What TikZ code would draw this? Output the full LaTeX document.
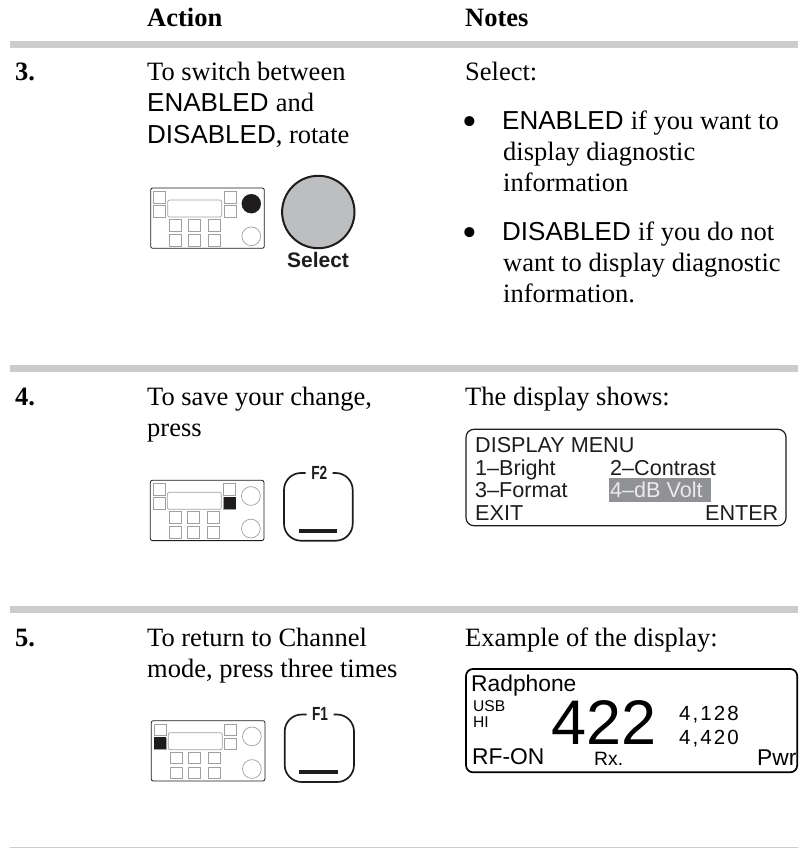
\documentclass[tikz,border=0pt]{standalone}
\usepackage{fontspec}
\setmainfont{Liberation Serif}
\setsansfont{Liberation Sans}
\newfontfamily\spaced[LetterSpace=10]{Liberation Sans}
\definecolor{barg}{RGB}{204,204,204}
\definecolor{knobg}{RGB}{188,190,192}
\definecolor{btng}{RGB}{160,160,162}
\definecolor{hilite}{RGB}{145,146,150}
\definecolor{ink}{RGB}{30,28,28}
\newcommand{\rmpart}{\rmfamily\fontsize{26.5}{28}\selectfont}
\newcommand{\radio}[2]{%
\begin{scope}[shift={(#1,#2)}]
\draw[ink,line width=.8,rounded corners=2] (0,0) rectangle (113.6,60.3);
\foreach \x/\y in {3/3.3,3/17.3,73.3/3.3,73.3/17.3,18.6/31.3,37.3/31.3,57.3/31.3,18.6/46.3,37.3/46.3,57.3/46.3}
 \draw[btng,line width=.7] (\x,\y) rectangle ++(12,11.7);
\draw[btng,line width=.7,rounded corners=2] (17,12) rectangle (71,29);
\draw[btng,line width=.7] (100.6,15.7) circle (9.4);
\draw[btng,line width=.7] (100.6,48.3) circle (9.4);
\end{scope}}
\tikzset{
 x=1pt,y=-1pt,
 body/.style={anchor=base west,inner sep=0,font=\fontsize{26.5}{28}\selectfont,text=black},
 bulletmark/.style={anchor=base west,inner sep=0,font=\fontsize{42}{44}\selectfont,text=black},
 sans/.style={anchor=base west,inner sep=0,font=\sffamily\fontsize{26}{28}\selectfont,text=black},
 head/.style={anchor=base west,inner sep=0,font=\bfseries\fontsize{26.5}{28}\selectfont,text=black},
 lcd/.style={anchor=base west,inner sep=0,font=\sffamily\fontsize{21.6}{24}\selectfont,text=ink},
 lcdb/.style={anchor=base west,inner sep=0,font=\sffamily\fontsize{22.8}{24}\selectfont,text=black},
 lcds/.style={anchor=base west,inner sep=0,font=\sffamily\fontsize{15.6}{16}\selectfont,text=black},
 lcdn/.style={anchor=base west,inner sep=0,font=\spaced\fontsize{20.5}{22}\selectfont,text=black},
 keylabel/.style={inner sep=0,font=\sffamily\bfseries\fontsize{19}{20}\selectfont,text=ink},
 rule/.style={barg,line width=7},
 keyframe/.style={ink,line width=1.7,rounded corners=17},
 onbtn/.style={fill=ink},
}
\begin{document}
\begin{tikzpicture}
\useasboundingbox (0,0) rectangle (798,848);
\fill[white] (0,0) rectangle (798,848);
% rules
\draw[rule] (10,44.4) -- (798,44.4);
\draw[rule] (10,368.6) -- (798,368.6);
\draw[rule] (10,609.6) -- (798,609.6);
\draw[barg,line width=1] (10,847.3) -- (798,847.3);
% headings
\node[head] (hact) at (147,27) {Action};
\node[head] (hnot) at (465,27) {Notes};
% step 3
\node[head] (n3) at (15,81) {3.};
\node[body] (a3a) at (147,81) {To switch between};
\node[sans] (a3b) at (147,112) {ENABLED \rmpart and};
\node[sans] (a3c) at (147,143) {DISABLED\rmpart, rotate};
\radio{150.7}{188}
\fill[onbtn] (251.3,203.7) circle (9.6);
\draw[ink,line width=2,fill=knobg] (318.3,212) circle (36.2);
\node[keylabel,font=\sffamily\bfseries\fontsize{21}{22}\selectfont] (sel) at (318,259.5) {Select};
\node[body] (t3) at (465,81) {Select:};
\node[bulletmark] (b1) at (462.6,135.5) {•};
\node[sans] (t3a) at (502,129.5) {ENABLED \rmpart if you want to};
\node[body] (t3b) at (503,160.5) {display diagnostic};
\node[body] (t3c) at (503,191.5) {information};
\node[bulletmark] (b2) at (462.6,246.5) {•};
\node[sans] (t3d) at (502,240.5) {DISABLED \rmpart if you do not};
\node[body] (t3e) at (503,271.5) {want to display diagnostic};
\node[body] (t3f) at (503,302.5) {information.};
% step 4
\node[head] (n4) at (15,405) {4.};
\node[body] (a4a) at (147,405) {To save your change,};
\node[body] (a4b) at (147,436) {press};
\radio{150.3}{480.3}
\fill[onbtn] (223.5,496.5) rectangle (235.5,509);
\node[keylabel] (f2) at (319.3,472.7) {\scalebox{.72}[1]{F2}};
\draw[keyframe] (305.7,473) -- (284,473) -- (284,540.7) -- (352.7,540.7) -- (352.7,473) -- (332.7,473);
\fill[ink] (299,529) rectangle (337.3,533.3);
\node[body] (t4) at (465,405) {The display shows:};
\draw[ink,line width=1.2,rounded corners=8] (466,429.3) rectangle (786,525.7);
\node[lcd] (d1) at (475,452.3) {DISPLAY MENU};
\node[lcd] (d2) at (475,475) {1–Bright};
\node[lcd] (d3) at (610,475) {2–Contrast};
\node[lcd] (d4) at (475,497.3) {3–Format};
\fill[hilite] (608.7,478.3) rectangle (710.7,501.7);
\node[lcd,text=white!92!black] (d5) at (610,497.3) {4–dB Volt};
\node[lcd] (d6) at (475,520) {EXIT};
\node[lcd,anchor=base east] (d7) at (778.5,520) {ENTER};
% step 5
\node[head] (n5) at (15,646) {5.};
\node[body] (a5a) at (147,646) {To return to Channel};
\node[body] (a5b) at (147,677) {mode, press three times};
\radio{151.3}{720.7}
\fill[onbtn] (154.3,737) rectangle (166.3,749);
\node[keylabel] (f1) at (320,714) {\scalebox{.72}[1]{F1}};
\draw[keyframe] (306.5,714.5) -- (284.7,714.5) -- (284.7,782) -- (354,782) -- (354,714.5) -- (333.5,714.5);
\fill[ink] (299.3,769.7) rectangle (338.3,774.3);
\node[body] (t5) at (465,646) {Example of the display:};
\draw[black,line width=1.7,rounded corners=7] (466,669) rectangle (797.2,772.3);
\node[lcdb] (r1) at (471,691.7) {Radphone};
\node[lcds] (r2) at (473,711.7) {USB};
\node[lcds] (r3) at (473,727.7) {HI};
\node[lcd,text=black,font=\sffamily\fontsize{63}{64}\selectfont] (r4) at (551,744) {422};
\node[lcdn] (r5) at (679,720.7) {4,128};
\node[lcdn] (r6) at (679,744) {4,420};
\node[lcdb] (r7) at (472,764.3) {RF-ON};
\node[lcdb,font=\sffamily\fontsize{19.3}{20}\selectfont] (r8) at (594,765) {Rx.};
\node[lcdb] (r9) at (757,765.5) {Pwr};
\end{tikzpicture}
\end{document}
